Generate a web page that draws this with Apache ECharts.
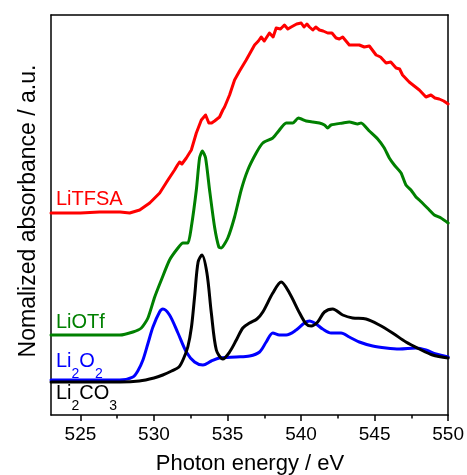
<!DOCTYPE html>
<html><head><meta charset="utf-8">
<script src="https://cdn.jsdelivr.net/npm/echarts@6/dist/echarts.min.js"></script>
<style>html,body{margin:0;padding:0;background:#fff}#c{width:467px;height:475px}</style>
</head><body><div id="c"></div><script>
const xTickValues = [525, 530, 535, 540, 545, 550];
const xMinorTickValues = [527.5, 532.5, 537.5, 542.5, 547.5];

const li2co3E = [523, 525, 527.7, 529, 530, 530.6, 531.2, 531.7, 532.0, 532.3, 532.55, 532.76, 533.0, 533.26, 533.6, 533.9, 534.24, 534.68, 535.14, 535.6, 536.04, 536.5, 537.0, 537.4, 538.08, 538.65, 539.21, 539.9, 540.35, 540.69, 541.13, 541.59, 542.15, 542.83, 543.51, 544.42, 545.32, 546.22, 547.13, 548.04, 548.94, 550];
const li2co3Y = [0.33, 0.33, 0.33, 0.34, 0.37, 0.40, 0.44, 0.48, 0.56, 0.68, 0.88, 1.18, 1.53, 1.60, 1.42, 1.02, 0.65, 0.56, 0.63, 0.75, 0.87, 0.92, 0.96, 1.03, 1.22, 1.33, 1.22, 1.02, 0.91, 0.89, 0.93, 1.03, 1.06, 1.00, 0.97, 0.96, 0.90, 0.82, 0.73, 0.66, 0.60, 0.57];

const li2o2E = [523, 527.67, 528.57, 528.9, 529.25, 529.6, 529.93, 530.38, 530.61, 531.06, 531.63, 532.2, 532.76, 533.33, 533.9, 534.46, 535.59, 536.5, 537.18, 537.63, 538.08, 538.53, 538.99, 539.67, 540.23, 540.57, 541.02, 541.47, 542.04, 542.72, 543.28, 543.96, 544.87, 545.78, 546.68, 547.81, 548.49, 549.17, 550];
const li2o2Y = [0.35, 0.35, 0.38, 0.44, 0.55, 0.72, 0.88, 1.03, 1.06, 1.00, 0.82, 0.63, 0.53, 0.50, 0.54, 0.57, 0.58, 0.59, 0.63, 0.73, 0.82, 0.80, 0.80, 0.85, 0.92, 0.94, 0.91, 0.86, 0.82, 0.82, 0.78, 0.73, 0.69, 0.67, 0.66, 0.67, 0.65, 0.61, 0.58];

const liotfE = [523, 526.3, 527.67, 528.57, 529.14, 529.59, 530.05, 530.5, 531.06, 531.63, 531.97, 532.31, 532.54, 532.88, 533.1, 533.29, 533.51, 533.78, 534.12, 534.41, 534.57, 535.02, 535.48, 535.93, 536.38, 536.95, 537.4, 538.08, 538.42, 538.99, 539.44, 539.82, 540.35, 540.79, 541.25, 541.59, 541.81, 542.04, 542.83, 543.28, 543.85, 544.08, 544.64, 545.21, 545.66, 546.0, 546.34, 546.8, 547.13, 547.47, 547.81, 548.04, 548.72, 549.06, 549.51, 550];
const liotfY = [0.80, 0.80, 0.80, 0.83, 0.87, 0.97, 1.18, 1.35, 1.55, 1.67, 1.72, 1.72, 1.88, 2.25, 2.57, 2.64, 2.57, 2.25, 1.88, 1.68, 1.67, 1.77, 1.98, 2.25, 2.45, 2.62, 2.72, 2.77, 2.83, 2.92, 2.92, 2.97, 2.94, 2.93, 2.92, 2.90, 2.87, 2.90, 2.92, 2.93, 2.91, 2.92, 2.84, 2.76, 2.67, 2.57, 2.50, 2.42, 2.30, 2.25, 2.18, 2.15, 2.05, 2.00, 1.97, 1.92];

const litfsaE = [523, 525, 526.3, 527.7, 528.35, 529.03, 529.71, 530.39, 530.95, 531.4, 531.6, 531.74, 531.9, 532.2, 532.54, 532.88, 533.22, 533.51, 533.73, 533.92, 534.12, 534.46, 534.68, 534.8, 535.14, 535.48, 535.82, 536.27, 536.84, 537.1, 537.29, 537.5, 537.85, 538.1, 538.31, 538.6, 538.87, 539.1, 539.33, 539.7, 540.01, 540.2, 540.4, 540.57, 540.8, 541.0, 541.25, 541.5, 541.81, 542.1, 542.38, 542.6, 542.83, 543.28, 543.96, 544.3, 544.64, 545.1, 545.4, 545.78, 546.1, 546.46, 546.7, 546.9, 547.35, 548.04, 548.49, 548.83, 549.1, 549.39, 549.7, 550];
const litfsaY = [2.02, 2.02, 2.03, 2.03, 2.02, 2.05, 2.12, 2.22, 2.35, 2.45, 2.50, 2.53, 2.51, 2.57, 2.65, 2.82, 2.95, 3.00, 2.92, 2.92, 2.94, 2.98, 3.05, 3.08, 3.20, 3.35, 3.44, 3.55, 3.70, 3.74, 3.78, 3.74, 3.82, 3.78, 3.87, 3.86, 3.90, 3.86, 3.88, 3.91, 3.92, 3.88, 3.91, 3.88, 3.85, 3.88, 3.85, 3.84, 3.82, 3.82, 3.77, 3.76, 3.78, 3.70, 3.70, 3.68, 3.69, 3.60, 3.58, 3.52, 3.53, 3.47, 3.46, 3.40, 3.33, 3.25, 3.18, 3.20, 3.17, 3.16, 3.14, 3.11];

const FONT = '"Liberation Sans", Arial, Helvetica, sans-serif';
const zip = (xs, ys) => xs.map((x, i) => [x, ys[i]]);

const chart = echarts.init(document.getElementById('c'), null, {renderer: 'canvas'});

const lineSeries = (name, xs, ys, color, w, smooth) => ({
  name, type: 'line', data: zip(xs, ys), xAxisIndex: 0, yAxisIndex: 0,
  showSymbol: false, symbol: 'none', smooth: smooth,
  lineStyle: {color, width: w, join: 'round', cap: 'round'}, itemStyle: {color}, animation: false
});

const frame = {color: '#000', width: 1.5};

chart.setOption({
  animation: false,
  backgroundColor: '#fff',
  grid: {left: 51, right: 18, top: 15, bottom: 60},
  xAxis: [
    {type: 'value', min: 523, max: 550, position: 'bottom',
     axisLine: {show: true, onZero: false, lineStyle: frame},
     axisTick: {show: true, inside: false, length: 6, customValues: xTickValues, lineStyle: frame},
     axisLabel: {show: true, customValues: xTickValues, fontSize: 19, color: '#000', fontFamily: FONT, margin: 10},
     splitLine: {show: false}},
    {type: 'value', min: 523, max: 550, position: 'bottom',
     axisLine: {show: false},
     axisTick: {show: true, inside: false, length: 3.5, customValues: xMinorTickValues, lineStyle: frame},
     axisLabel: {show: false}, splitLine: {show: false}},
    {type: 'value', min: 523, max: 550, position: 'top',
     axisLine: {show: true, onZero: false, lineStyle: frame},
     axisTick: {show: false}, axisLabel: {show: false}, splitLine: {show: false}}
  ],
  yAxis: [
    {type: 'value', min: 0, max: 4, position: 'left',
     axisLine: {show: true, onZero: false, lineStyle: frame},
     axisTick: {show: false}, axisLabel: {show: false}, splitLine: {show: false}},
    {type: 'value', min: 0, max: 4, position: 'right',
     axisLine: {show: true, onZero: false, lineStyle: frame},
     axisTick: {show: false}, axisLabel: {show: false}, splitLine: {show: false}}
  ],
  series: [
    lineSeries('LiTFSA', litfsaE, litfsaY, '#ff0000', 3, false),
    lineSeries('LiOTf', liotfE, liotfY, '#008000', 3, 0.2),
    lineSeries('Li2O2', li2o2E, li2o2Y, '#0000ff', 3, 0.3),
    lineSeries('Li2CO3', li2co3E, li2co3Y, '#000000', 3, 0.3)
  ],
  graphic: [
    {type: 'text', x: 29, y: 211, rotation: Math.PI / 2,
     style: {text: 'Nomalized absorbance / a.u.', fontSize: 23, fontFamily: FONT, fill: '#000', textAlign: 'center', textVerticalAlign: 'middle'}},
    {type: 'text', x: 250, y: 464,
     style: {text: 'Photon energy / eV', fontSize: 22, fontFamily: FONT, fill: '#000', textAlign: 'center', textVerticalAlign: 'middle'}},
    {type: 'text', x: 56, y: 199,
     style: {text: 'LiTFSA', fontSize: 20, fontFamily: FONT, fill: '#ff0000', textAlign: 'left', textVerticalAlign: 'middle'}},
    {type: 'text', x: 56, y: 322,
     style: {text: 'LiOTf', fontSize: 20, fontFamily: FONT, fill: '#008000', textAlign: 'left', textVerticalAlign: 'middle'}},
    {type: 'text', x: 56, y: 361,
     style: {text: '{m|Li}{s|2}{m|O}{s|2}', fontFamily: FONT, fill: '#0000ff', textAlign: 'left', textVerticalAlign: 'middle',
       rich: {m: {fontSize: 20, lineHeight: 40, verticalAlign: 'middle', fill: '#0000ff', fontFamily: FONT},
              s: {fontSize: 14, lineHeight: 14, verticalAlign: 'bottom', fill: '#0000ff', fontFamily: FONT}}}},
    {type: 'text', x: 56, y: 393,
     style: {text: '{m|Li}{s|2}{m|CO}{s|3}', fontFamily: FONT, fill: '#000', textAlign: 'left', textVerticalAlign: 'middle',
       rich: {m: {fontSize: 20, lineHeight: 40, verticalAlign: 'middle', fill: '#000', fontFamily: FONT},
              s: {fontSize: 14, lineHeight: 14, verticalAlign: 'bottom', fill: '#000', fontFamily: FONT}}}}
  ]
});
</script></body></html>
